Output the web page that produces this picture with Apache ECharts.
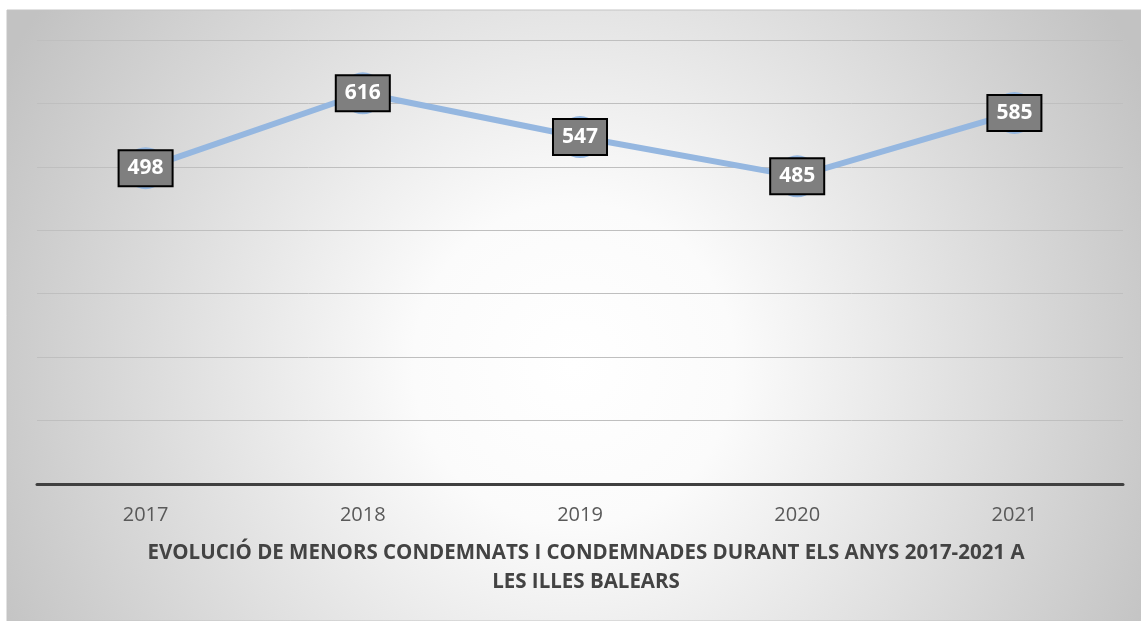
<!DOCTYPE html>
<html>
<head>
<meta charset="utf-8">
<script src="https://cdn.jsdelivr.net/npm/echarts@6/dist/echarts.min.js"></script>
<style>
    html, body { margin: 0; padding: 0; background: #fff; }
    #chart { width: 1141px; height: 621px; }
</style>
</head>
<body>
<div id="chart"></div>
<script>
//dades
var years = ['2017', '2018', '2019', '2020', '2021'];
var menors = [498, 616, 547, 485, 585];
var titleLines = ['EVOLUCIÓ DE MENORS CONDEMNATS I CONDEMNADES DURANT ELS ANYS 2017-2021 A', 'LES ILLES BALEARS'];

var chart;

initChart();

function initChart() {
    chart = echarts.init(document.getElementById('chart'));

    var option = {
        backgroundColor: '#ffffff',
        animation: false,
        //fons amb degradat radial
        graphic: [{
            type: 'rect',
            z: -10,
            silent: true,
            shape: { x: 7, y: 10, width: 1134, height: 611 },
            style: {
                fill: new echarts.graphic.RadialGradient(0.5, 0.58, 1.05, [
                    { offset: 0, color: '#ffffff' },
                    { offset: 0.25, color: '#fbfbfb' },
                    { offset: 1, color: '#c2c2c2' }
                ]),
                stroke: '#c4c4c4',
                lineWidth: 1
            }
        }],
        title: {
            text: titleLines.join('\n'),
            left: 581,
            textAlign: 'center',
            top: 534,
            textStyle: {
                fontFamily: 'Open Sans',
                fontSize: 20.5,
                fontWeight: 'bold',
                color: '#434343',
                lineHeight: 29
            }
        },
        grid: {
            left: 37,
            right: 18,
            top: 40,
            bottom: 137
        },
        xAxis: {
            type: 'category',
            data: years,
            boundaryGap: true,
            axisLine: { lineStyle: { color: '#404040', width: 3 } },
            axisTick: { show: false },
            axisLabel: {
                margin: 21,
                fontFamily: 'Open Sans',
                fontSize: 20,
                color: '#595959'
            }
        },
        yAxis: {
            type: 'value',
            min: 0,
            max: 700,
            interval: 100,
            axisLine: { show: false },
            axisTick: { show: false },
            axisLabel: { show: false },
            splitLine: { lineStyle: { color: '#bfbfbf', width: 1 } }
        },
        series: [{
            type: 'line',
            data: menors,
            symbol: 'circle',
            symbolSize: 42,
            lineStyle: { color: '#95b7e0', width: 6 },
            itemStyle: { color: '#95b7e0' },
            label: {
                show: true,
                position: 'inside',
                fontFamily: 'Open Sans',
                fontSize: 21,
                fontWeight: 'bold',
                color: '#ffffff',
                backgroundColor: '#7f7f7f',
                borderColor: '#000000',
                borderWidth: 2,
                padding: [7, 8, 6, 8]
            }
        }]
    };

    chart.setOption(option);
}
</script>
</body>
</html>
